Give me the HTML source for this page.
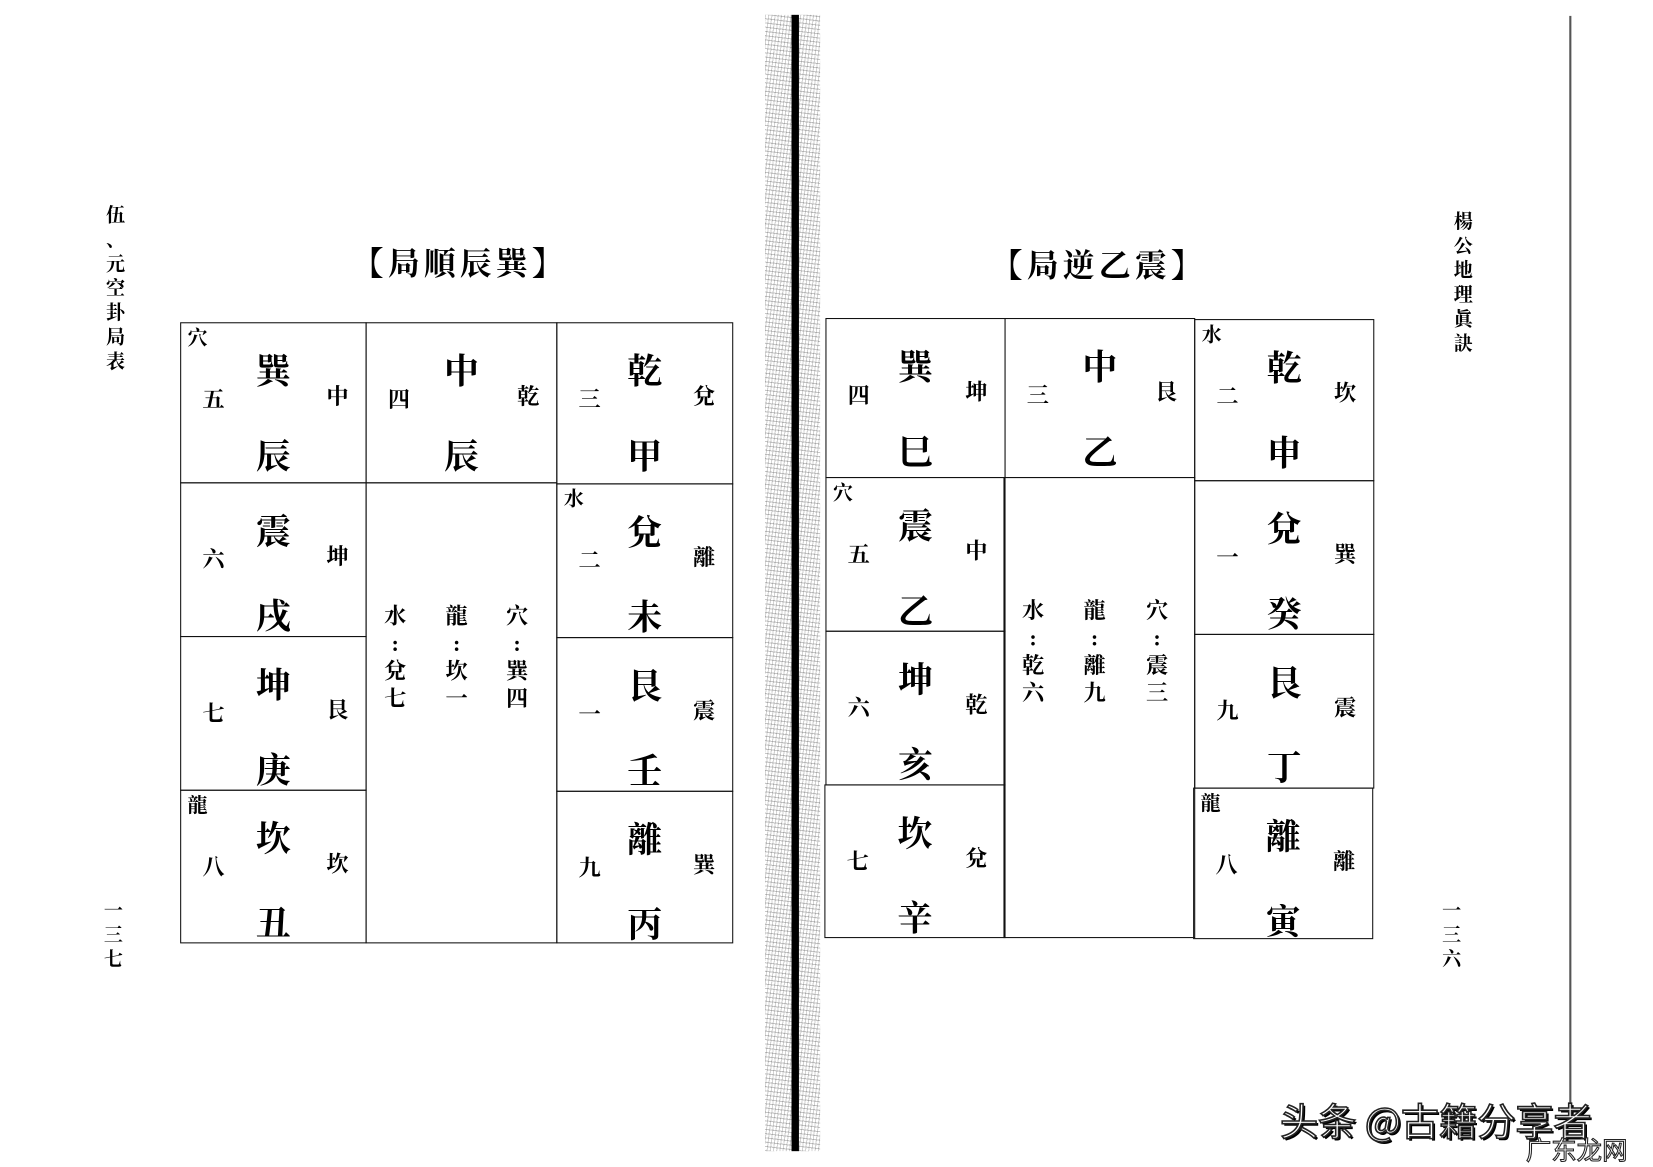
<!DOCTYPE html>
<html><head><meta charset="utf-8"><style>
html,body{margin:0;padding:0;background:#fff;width:1653px;height:1166px;overflow:hidden}
#w{position:absolute;left:0;top:0;width:1560px;height:1100px;transform:scale(1.0596,1.06);transform-origin:0 0;font-family:"Liberation Serif","Noto Serif CJK SC","Noto Sans CJK TC",serif;color:#000}
#tbl{position:absolute;left:-2px;top:-2px;width:1560px;height:1100px}
.cell{position:absolute;border:1.5px solid #111;box-sizing:border-box}
.t,.b{position:absolute;left:0;right:0;text-align:center;font-size:33px;font-weight:bold;line-height:1;font-family:"Noto Serif CJK SC","Noto Sans CJK TC",serif}
.t{top:27px}.b{top:107px}
.l,.r,.c{position:absolute;font-size:21px;line-height:1;font-weight:bold}
.l{left:20px;top:62px}.r{right:16px;top:59px}.c{left:6px;top:5px;font-size:19px}
.v{position:absolute;font-size:21px;line-height:26px;width:22px;text-align:center;font-weight:bold}
.title{position:absolute;font-size:30px;font-weight:bold;font-family:"Noto Serif CJK SC","Noto Sans CJK TC",serif;letter-spacing:4px}
.side{position:absolute;font-size:18px;line-height:23px;width:20px;text-align:center;font-weight:bold}
</style></head><body><div id="w">

<div style="position:absolute;left:722px;top:14px;width:52px;height:1072px;background:repeating-linear-gradient(7deg,rgba(0,0,0,.28) 0 1px,rgba(255,255,255,0) 1px 4px),repeating-linear-gradient(97deg,rgba(0,0,0,.22) 0 1px,rgba(255,255,255,0) 1px 3px);opacity:.8"></div>
<div style="position:absolute;left:747px;top:14px;width:7px;height:1072px;background:#000"></div>
<div style="position:absolute;left:1481px;top:15px;width:2px;height:1030px;background:#555"></div>

<div class="title" style="left:332px;top:224px">【局順辰巽】</div>
<div class="title" style="left:935px;top:226px">【局逆乙震】</div>

<div class="side" style="left:99px;top:192px">伍<br>、<br>元<br>空<br>卦<br>局<br>表</div>
<div class="side" style="left:97px;top:848px">一<br>三<br>七</div>
<div class="side" style="left:1371px;top:198px">楊<br>公<br>地<br>理<br>眞<br>訣</div>
<div class="side" style="left:1360px;top:848px">一<br>三<br>六</div>

<div id="tbl">
<!-- left table -->
<div class="cell" style="left:172px;top:306px;width:176px;height:152px"><span class="c">穴</span><div class="t">巽</div><span class="l">五</span><span class="r">中</span><div class="b">辰</div></div>
<div class="cell" style="left:347px;top:306px;width:181px;height:152px"><div class="t">中</div><span class="l">四</span><span class="r">乾</span><div class="b">辰</div></div>
<div class="cell" style="left:527px;top:306px;width:167px;height:153px"><div class="t">乾</div><span class="l">三</span><span class="r">兌</span><div class="b">甲</div></div>
<div class="cell" style="left:172px;top:457px;width:176px;height:146px"><div class="t">震</div><span class="l">六</span><span class="r">坤</span><div class="b">戌</div></div>
<div class="cell" style="left:527px;top:458px;width:167px;height:146px"><span class="c">水</span><div class="t">兌</div><span class="l">二</span><span class="r">離</span><div class="b">未</div></div>
<div class="cell" style="left:172px;top:602px;width:176px;height:146px"><div class="t">坤</div><span class="l">七</span><span class="r">艮</span><div class="b">庚</div></div>
<div class="cell" style="left:527px;top:603px;width:167px;height:146px"><div class="t">艮</div><span class="l">一</span><span class="r">震</span><div class="b">壬</div></div>
<div class="cell" style="left:172px;top:747px;width:176px;height:145px"><span class="c">龍</span><div class="t">坎</div><span class="l">八</span><span class="r">坎</span><div class="b">丑</div></div>
<div class="cell" style="left:527px;top:748px;width:167px;height:144px"><div class="t">離</div><span class="l">九</span><span class="r">巽</span><div class="b">丙</div></div>
<div class="cell" style="left:347px;top:457px;width:181px;height:435px"></div>
<div class="v" style="left:364px;top:570px">水<br>:<br>兌<br>七</div>
<div class="v" style="left:422px;top:570px">龍<br>:<br>坎<br>一</div>
<div class="v" style="left:479px;top:570px">穴<br>:<br>巽<br>四</div>

<!-- right table -->
<div class="cell" style="left:781px;top:302px;width:170px;height:151px"><div class="t">巽</div><span class="l">四</span><span class="r">坤</span><div class="b">巳</div></div>
<div class="cell" style="left:950px;top:302px;width:180px;height:151px"><div class="t">中</div><span class="l">三</span><span class="r">艮</span><div class="b">乙</div></div>
<div class="cell" style="left:1129px;top:303px;width:170px;height:153px"><span class="c">水</span><div class="t">乾</div><span class="l">二</span><span class="r">坎</span><div class="b">申</div></div>
<div class="cell" style="left:781px;top:452px;width:170px;height:146px"><span class="c">穴</span><div class="t">震</div><span class="l">五</span><span class="r">中</span><div class="b">乙</div></div>
<div class="cell" style="left:1129px;top:455px;width:170px;height:146px"><div class="t">兌</div><span class="l">一</span><span class="r">巽</span><div class="b">癸</div></div>
<div class="cell" style="left:781px;top:597px;width:170px;height:146px"><div class="t">坤</div><span class="l">六</span><span class="r">乾</span><div class="b">亥</div></div>
<div class="cell" style="left:1129px;top:600px;width:170px;height:146px"><div class="t">艮</div><span class="l">九</span><span class="r">震</span><div class="b">丁</div></div>
<div class="cell" style="left:780px;top:742px;width:171px;height:145px"><div class="t">坎</div><span class="l">七</span><span class="r">兌</span><div class="b">辛</div></div>
<div class="cell" style="left:1128px;top:745px;width:170px;height:143px"><span class="c">龍</span><div class="t">離</div><span class="l">八</span><span class="r">離</span><div class="b">寅</div></div>
<div class="cell" style="left:949px;top:452px;width:181px;height:435px"></div>
<div class="v" style="left:966px;top:565px">水<br>:<br>乾<br>六</div>
<div class="v" style="left:1024px;top:565px">龍<br>:<br>離<br>九</div>
<div class="v" style="left:1083px;top:565px">穴<br>:<br>震<br>三</div>
</div>

<div style="position:absolute;left:1208px;top:1030px;font-size:36px;font-family:'Noto Sans CJK SC',sans-serif;color:#fff;-webkit-text-stroke:1.5px #222;text-shadow:2px 2px 0 #000;white-space:nowrap">头条 @古籍分享者</div>
<div style="position:absolute;left:1440px;top:1066px;font-size:24px;font-family:'Noto Sans CJK SC',sans-serif;color:#fff;-webkit-text-stroke:1px #222;white-space:nowrap">广东龙网</div>
</div></body></html>
